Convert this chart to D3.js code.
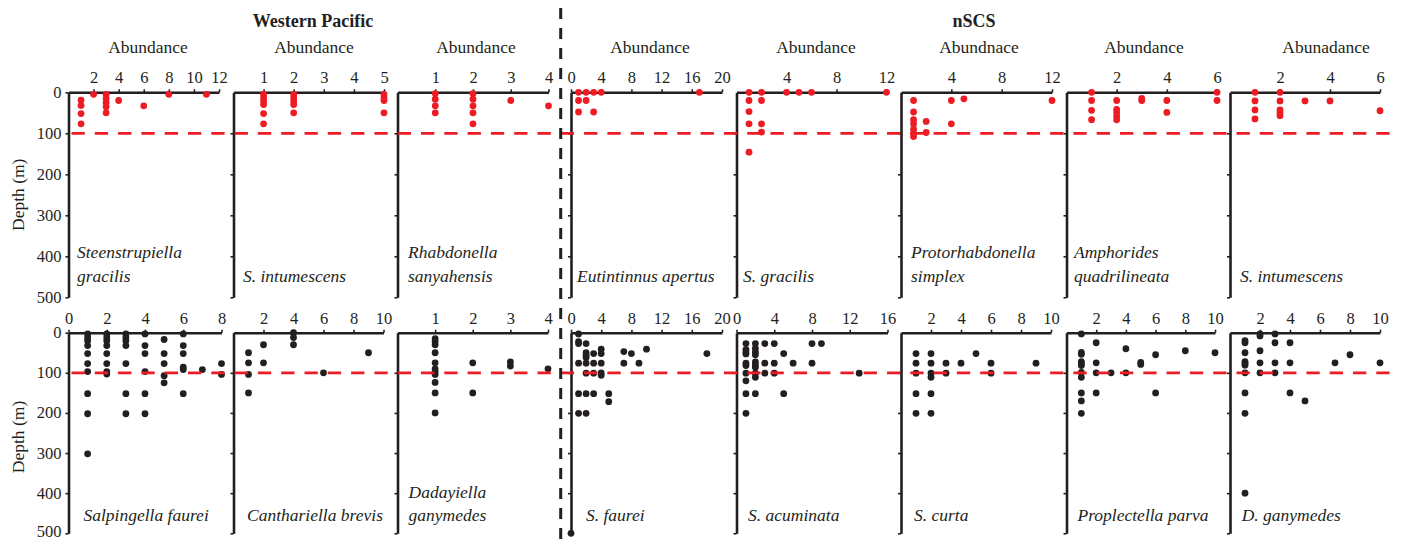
<!DOCTYPE html>
<html>
<head>
<meta charset="utf-8">
<script src="https://cdn.jsdelivr.net/npm/d3@7/dist/d3.min.js"></script>
<style>
  html, body { margin: 0; padding: 0; background: #fff; }
  svg { display: block; font-family: "Liberation Serif", "Times New Roman", serif; }
</style>
</head>
<body>
<script>
// ---------- data: [abundance, depth (m)] ----------
// Western Pacific, upper row
const steenstrupiellaGracilisWP = [[2,5],[8,5],[11,5],[3,5],[3,15],[3,25],[3,35],[3,50],[1,19],[1,32],[1,52],[1,77],[4,20],[6,33]];
const intumescensWP = [[1,5],[1,13],[1,21],[1,30],[1,52],[1,77],[2,5],[2,13],[2,21],[2,30],[2,50],[5,5],[5,13],[5,20],[5,50]];
const rhabdonellaSanyahensisWP = [[1,3],[1,17],[1,33],[1,50],[2,3],[2,17],[2,33],[2,50],[2,77],[3,20],[4,33]];
// nSCS, upper row
const eutintinnusApertusSCS = [[1,0],[1,20],[1,48],[2,0],[2,20],[3,0],[3,48],[4,0],[17,0]];
const gracilisSCS = [[1,0],[1,20],[1,47],[1,77],[1,146],[2,0],[2,20],[2,77],[2,97],[4,0],[5,0],[6,0],[12,0]];
const protorhabdonellaSimplexSCS = [[1,20],[1,48],[1,67],[1,77],[1,90],[1,100],[1,108],[2,71],[2,98],[4,20],[4,77],[5,16],[12,20]];
const amphoridesQuadrilineataSCS = [[1,0],[1,20],[1,44],[1,67],[2,20],[2,42],[2,50],[2,59],[2,67],[3,15],[3,20],[4,20],[4,49],[6,0],[6,20]];
const intumescensSCS = [[1,0],[1,21],[1,43],[1,65],[2,0],[2,21],[2,43],[2,50],[2,57],[3,21],[4,21],[6,45]];
// Western Pacific, lower row
const salpingellaFaureiWP = [[1,3],[1,12],[1,20],[1,32],[1,52],[1,77],[1,97],[1,152],[1,202],[1,302],
  [2,3],[2,12],[2,20],[2,32],[2,52],[2,77],[2,97],[2,103],
  [3,3],[3,12],[3,20],[3,32],[3,77],[3,152],[3,202],
  [4,3],[4,32],[4,52],[4,97],[4,152],[4,202],
  [5,17],[5,52],[5,77],[5,107],[5,125],
  [6,3],[6,32],[6,52],[6,86],[6,92],[6,152],
  [7,92],[8,77],[8,104]];
const canthariellaBrevisWP = [[1,50],[1,75],[1,104],[1,150],[2,30],[2,75],[4,0],[4,12],[4,30],[6,100],[9,50]];
const dadayiellaGanymedesWP = [[1,15],[1,22],[1,30],[1,50],[1,75],[1,90],[1,97],[1,104],[1,124],[1,150],[1,200],[2,75],[2,150],[3,73],[3,83],[4,90]];
// nSCS, lower row
const faureiSCS = [[0,500],[1,3],[1,22],[1,27],[1,76],[1,152],[1,201],
  [2,27],[2,50],[2,56],[2,62],[2,76],[2,101],[2,152],[2,201],
  [3,52],[3,76],[3,101],[3,152],
  [4,41],[4,52],[4,76],[4,100],[4,106],
  [5,152],[5,172],[7,47],[7,76],[8,52],[9,76],[10,41],[18,52]];
const acuminataSCS = [[1,27],[1,42],[1,48],[1,53],[1,76],[1,82],[1,101],[1,120],[1,152],[1,201],
  [2,27],[2,39],[2,48],[2,55],[2,73],[2,80],[2,86],[2,101],[2,111],[2,152],
  [3,27],[3,76],[3,101],[4,27],[4,76],[4,101],[5,52],[5,152],[6,76],[8,27],[8,76],[9,27],[13,101]];
const curtaSCS = [[1,52],[1,76],[1,101],[1,152],[1,201],[2,52],[2,76],[2,101],[2,111],[2,152],[2,201],
  [3,76],[3,101],[4,76],[5,52],[6,76],[6,101],[9,76]];
const proplectellaParvaSCS = [[1,3],[1,49],[1,54],[1,72],[1,77],[1,82],[1,99],[1,111],[1,150],[1,170],[1,201],
  [2,25],[2,75],[2,100],[2,150],[3,100],[4,40],[4,100],[5,74],[5,79],[6,55],[6,150],[8,45],[10,50]];
const ganymedesSCS = [[1,20],[1,25],[1,50],[1,72],[1,76],[1,81],[1,100],[1,150],[1,201],[1,400],
  [2,3],[2,8],[2,45],[2,75],[2,100],[3,3],[3,25],[3,75],[3,100],[4,25],[4,75],[4,150],[5,170],[7,75],[8,55],[10,75]];

// axis maxima and tick labels
const topMax = [12, 5, 4, 20, 12, 12, 6, 6];
const topTicks = [[2,4,6,8,10,12],[1,2,3,4,5],[1,2,3,4],[0,4,8,12,16,20],[4,8,12],[4,8,12],[2,4,6],[2,4,6]];
const bottomMax = [8, 10, 4, 20, 16, 10, 10, 10];
const bottomTicks = [[0,2,4,6,8],[2,4,6,8,10],[1,2,3,4],[0,4,8,12,16,20],[0,4,8,12,16],[2,4,6,8,10],[2,4,6,8,10],[2,4,6,8,10]];
const depthTicks = [0, 100, 200, 300, 400, 500];
const boundaryDepth = 100;

const topXTitles = ["Abundance","Abundance","Abundance","Abundance","Abundance","Abundnace","Abundance","Abunadance"];
const topSpecies = [["Steenstrupiella","gracilis"],["S. intumescens"],["Rhabdonella","sanyahensis"],["Eutintinnus apertus"],
  ["S. gracilis"],["Protorhabdonella","simplex"],["Amphorides","quadrilineata"],["S. intumescens"]];
const bottomSpecies = [["Salpingella faurei"],["Canthariella brevis"],["Dadayiella","ganymedes"],["S. faurei"],
  ["S. acuminata"],["S. curta"],["Proplectella parva"],["D. ganymedes"]];
const regionTitles = ["Western Pacific", "nSCS"];

const topSeries = [steenstrupiellaGracilisWP, intumescensWP, rhabdonellaSanyahensisWP, eutintinnusApertusSCS,
  gracilisSCS, protorhabdonellaSimplexSCS, amphoridesQuadrilineataSCS, intumescensSCS];
const bottomSeries = [salpingellaFaureiWP, canthariellaBrevisWP, dadayiellaGanymedesWP, faureiSCS,
  acuminataSCS, curtaSCS, proplectellaParvaSCS, ganymedesSCS];

// ---------- layout ----------
const W = 1403, H = 541;
const INK = "#231f20", RED = "#ed1c24";
const SERIF = "Liberation Serif, Times New Roman, serif";
const colX = [68.5, 233.5, 397.5, 571, 736.5, 901, 1066.5, 1230];
const topW = [150.5, 150.5, 151, 151, 150, 151, 150.5, 150];
const bottomW = [153, 150, 150.5, 151, 151, 150, 148.5, 150];
const rows = [
  { y0: 92.3, y1: 297.3, widths: topW, maxes: topMax, ticks: topTicks, series: topSeries, species: topSpecies,
    color: RED, labelBase: [258, 282], labelDx: [8.5, 9.5, 10.5, 6, 6.5, 10, 7.5, 10] },
  { y0: 332.7, y1: 533.3, widths: bottomW, maxes: bottomMax, ticks: bottomTicks, series: bottomSeries, species: bottomSpecies,
    color: INK, labelBase: [498, 521], labelDx: [15, 13.5, 11, 15, 11.5, 13, 11, 11.7] }
];
const titleDx = [79.5, 80.5, 78.5, 79, 79.5, 78, 77.5, 96];

const svg = d3.select("body").append("svg").attr("width", W).attr("height", H);

// region headings
svg.append("text").attr("x", 313).attr("y", 27).attr("text-anchor", "middle")
  .attr("font-weight", "bold").attr("font-size", 18).attr("fill", INK).text(regionTitles[0]);
svg.append("text").attr("x", 974).attr("y", 27).attr("text-anchor", "middle")
  .attr("font-weight", "bold").attr("font-size", 18).attr("fill", INK).text(regionTitles[1]);

// abundance titles over the upper row
colX.forEach((x0, i) => {
  svg.append("text").attr("x", x0 + titleDx[i]).attr("y", 53).attr("text-anchor", "middle")
    .attr("font-size", 17.5).attr("fill", INK).text(topXTitles[i]);
});

rows.forEach((row, r) => {
  const y = d3.scaleLinear().domain([0, 500]).range([row.y0, row.y1]);

  colX.forEach((x0, i) => {
    const x = d3.scaleLinear().domain([0, row.maxes[i]]).range([x0, x0 + row.widths[i]]);
    const g = svg.append("g");

    // depth axis
    const yAxis = d3.axisLeft(y).tickValues(i === 0 ? depthTicks : depthTicks.slice(1))
      .tickSize(3).tickSizeOuter(0).tickPadding(4)
      .tickFormat(i === 0 ? d3.format("d") : () => "");
    const ya = g.append("g").attr("transform", `translate(${x0},0)`).call(yAxis);

    // abundance axis along the top
    const xAxis = d3.axisTop(x).tickValues(row.ticks[i]).tickFormat(d3.format("d"))
      .tickSize(3).tickSizeOuter(0).tickPadding(6);
    const xa = g.append("g").attr("transform", `translate(0,${row.y0})`).call(xAxis);

    [ya, xa].forEach(a => {
      a.attr("font-family", SERIF).attr("font-size", 16.5);
      a.select(".domain").attr("stroke", INK).attr("stroke-width", 2.6);
      a.selectAll(".tick line").attr("stroke", INK).attr("stroke-width", 1.6);
      a.selectAll(".tick text").attr("fill", INK).attr("font-size", 16.5).attr("font-family", SERIF);
    });
    // keep the deepest label of the lower row inside the frame
    ya.selectAll(".tick text").attr("dy", d => (r === 1 && d === 500) ? "0.2em" : "0.3em");

    // species name
    const lines = row.species[i];
    const t = g.append("text").attr("font-style", "italic").attr("font-size", 17.5).attr("fill", INK);
    lines.forEach((ln, k) => {
      const base = lines.length === 1 ? row.labelBase[1] : row.labelBase[k];
      t.append("tspan").attr("x", x0 + row.labelDx[i]).attr("y", base).text(ln);
    });

    // observations
    g.selectAll("circle").data(row.series[i]).join("circle")
      .attr("cx", d => x(d[0])).attr("cy", d => y(d[1])).attr("r", 3.4)
      .attr("fill", row.color);
  });

  // depth label
  const cy = (row.y0 + row.y1) / 2 + (r === 1 ? 4 : 0);
  svg.append("text").attr("transform", `translate(24,${cy}) rotate(-90)`)
    .attr("text-anchor", "middle").attr("font-size", 17.5).attr("fill", INK).text("Depth (m)");

  // 100 m boundary across the row
  svg.append("line").attr("x1", 71.5).attr("x2", 1391)
    .attr("y1", y(boundaryDepth)).attr("y2", y(boundaryDepth))
    .attr("stroke", RED).attr("stroke-width", 2.8).attr("stroke-dasharray", "13.3,10");
});

// divider between the two regions
svg.append("line").attr("x1", 560.7).attr("x2", 560.7).attr("y1", 8).attr("y2", H)
  .attr("stroke", INK).attr("stroke-width", 3).attr("stroke-dasharray", "11,9");
</script>
</body>
</html>
